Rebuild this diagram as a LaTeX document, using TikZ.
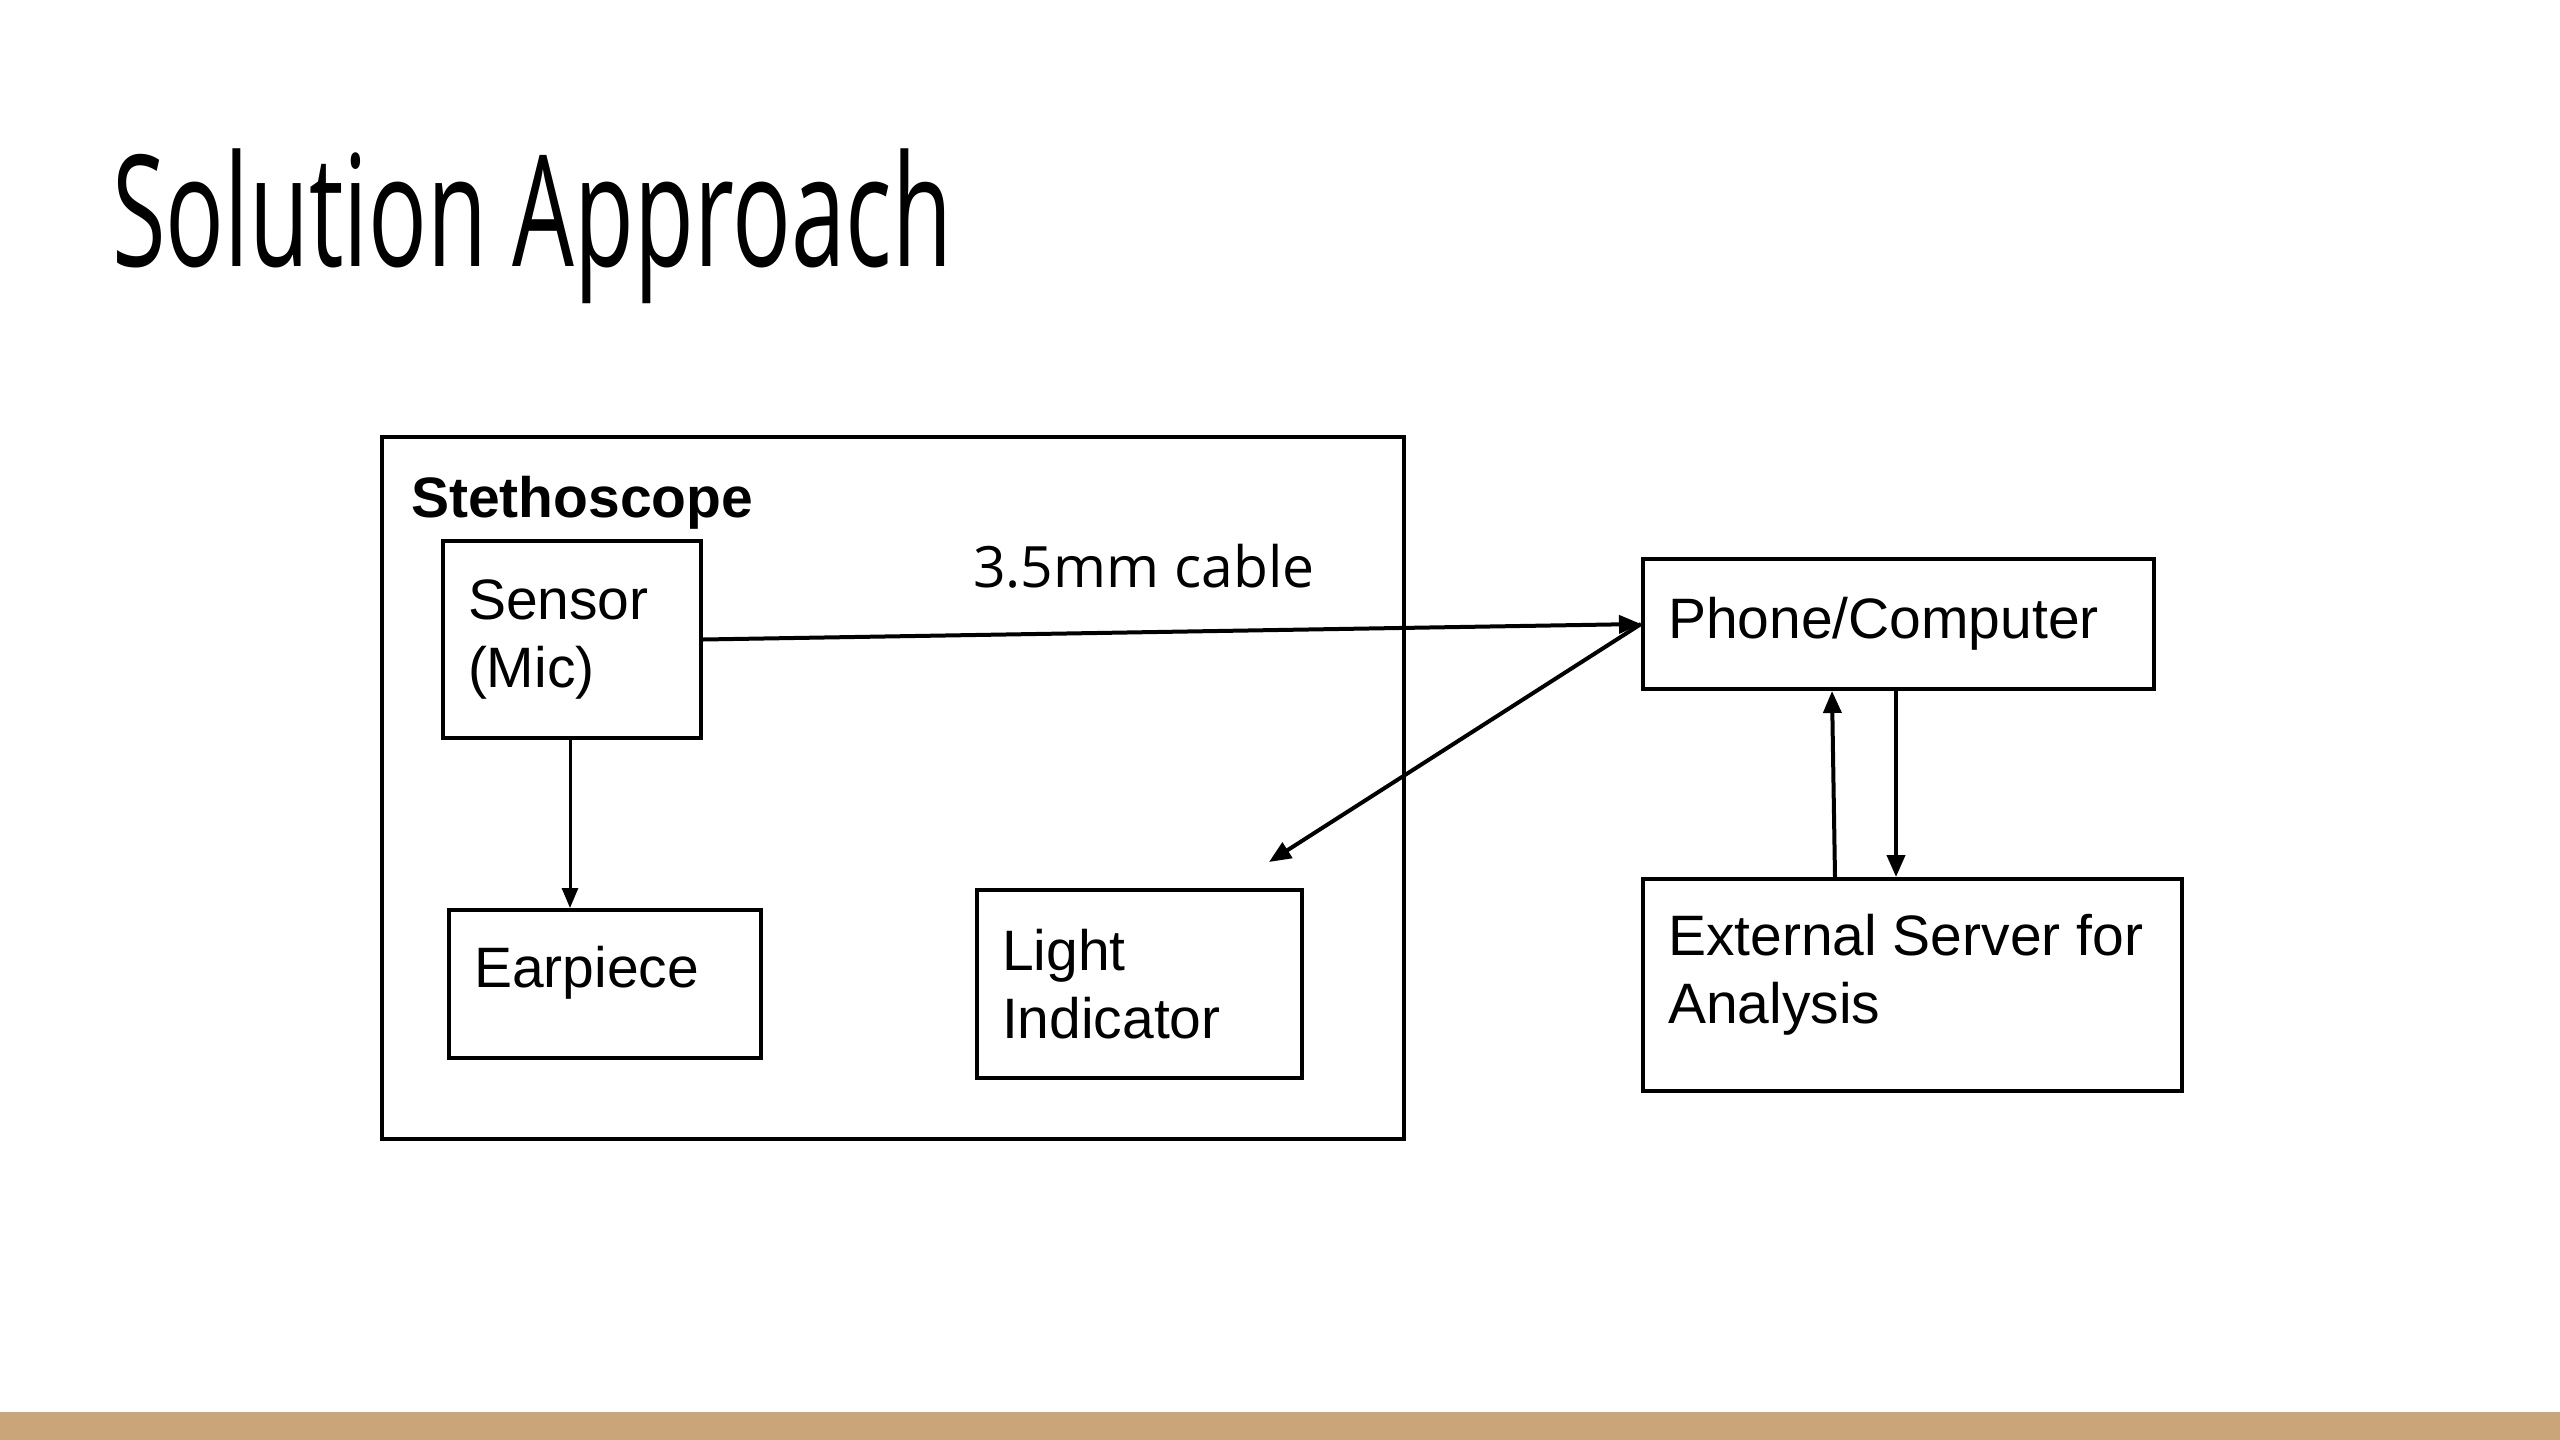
\documentclass[tikz,border=0pt]{standalone}
\usepackage{fontspec}
\setmainfont{Liberation Sans}
\newfontfamily\osans{Open Sans}
\newfontfamily\titlef[FakeStretch=0.63]{Open Sans}
\usetikzlibrary{arrows.meta}
\definecolor{barcol}{RGB}{203,165,122}
\tikzset{
  blk/.style={draw=black, line width=4pt, inner ysep=0pt, inner xsep=25pt,
    minimum height=#1, align=flush left, font=\fontsize{57}{68}\selectfont, anchor=north west},
  arr/.style={line width=4pt, -{Triangle[length=22pt,width=18pt]}},
  thinarr/.style={line width=3pt, -{Triangle[length=20pt,width=16pt]}}
}
\begin{document}
\begin{tikzpicture}[x=1pt,y=-1pt]
\useasboundingbox (0,0) rectangle (2560,1440);
\fill[barcol] (0,1412) rectangle (2560,1440);
% title
\node[anchor=base west, inner sep=0pt, font=\titlef\fontsize{155}{160}\selectfont] (title) at (112,266) {Solution Approach};
% outer box
\node[draw=black, line width=4pt, minimum width=1022pt, minimum height=702pt, inner sep=0pt, anchor=north west] (steth) at (380,435) {};
\node[anchor=base west, inner sep=0pt, font=\bfseries\fontsize{57}{68}\selectfont] (stethlbl) at (411,517) {Stethoscope};
\node[blk=197pt, text width=208pt] (sensor) at (441,539) {Sensor\\(Mic)};
\node[blk=148pt, text width=262pt] (earpiece) at (447,908) {Earpiece\\[-54pt]\strut};
\node[blk=188pt, text width=275pt] (light) at (975,888) {Light\\Indicator};
\node[blk=130pt, text width=461pt] (phone) at (1641,557) {Phone/Computer};
\node[blk=212pt, text width=489pt] (server) at (1641,877) {External Server for\\Analysis\\[-56pt]\strut};
\node[anchor=base west, inner sep=0pt, font=\osans\fontsize{57}{66}\selectfont] (cable) at (973,587) {3.5mm cable};
\coordinate (lighttip) at (1269,862);
% connectors
\draw[arr] (sensor.east) -- (phone.west);
\draw[arr] (phone.west) -- (lighttip);
\draw[thinarr] ([xshift=129pt]sensor.south west) -- ([xshift=123pt]earpiece.north west);
\draw[arr] ([xshift=194pt]server.north west) -- ([xshift=191pt]phone.south west);
\draw[arr] ([xshift=255pt]phone.south west) -- ([xshift=255pt]server.north west);
\end{tikzpicture}
\end{document}
